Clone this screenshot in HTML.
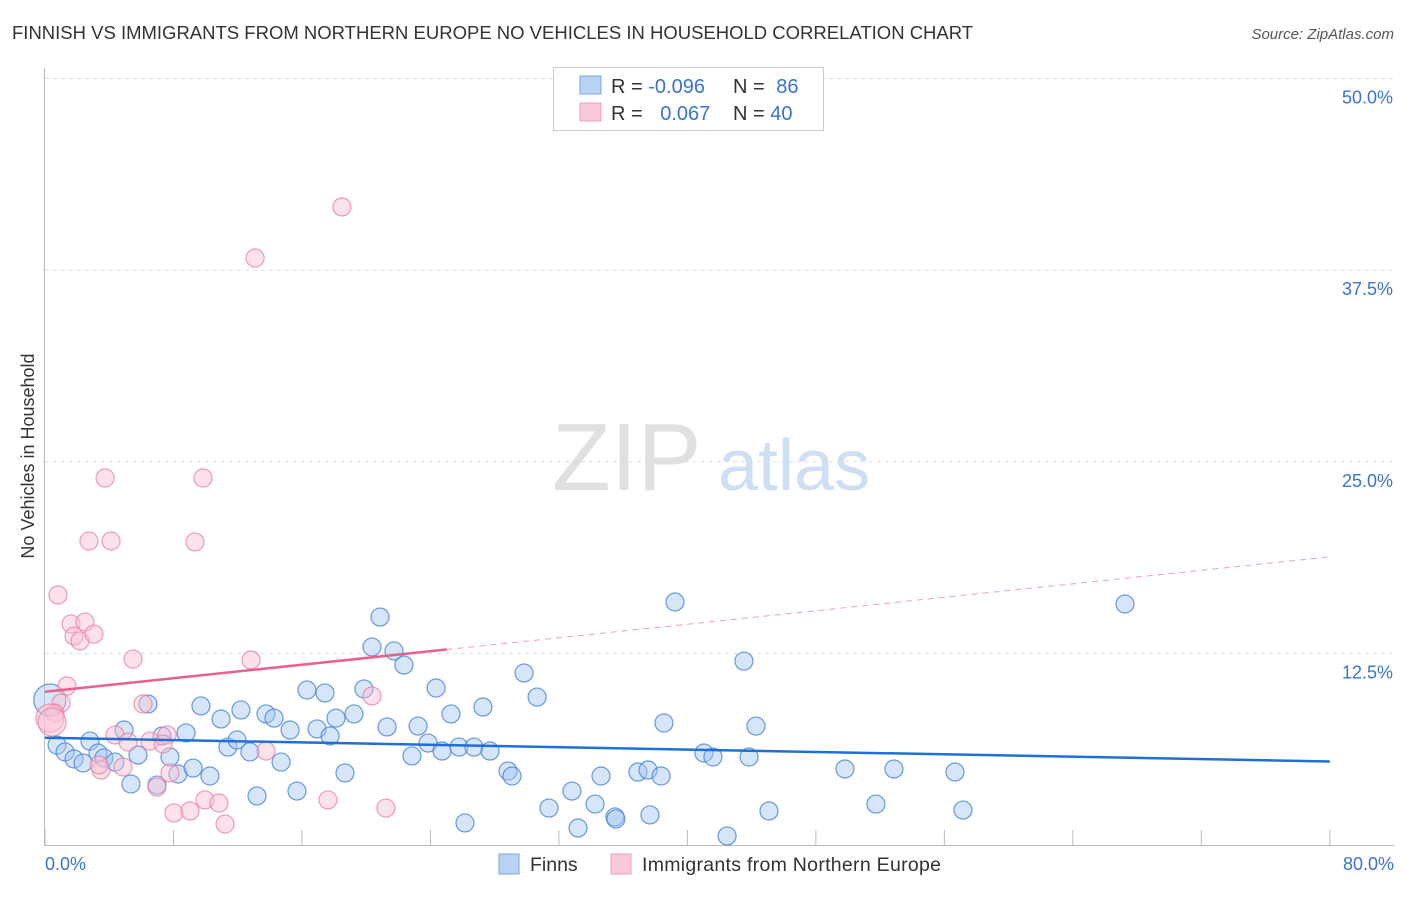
<!DOCTYPE html>
<html><head><meta charset="utf-8"><style>
body{margin:0;background:#fff;font-family:"Liberation Sans",sans-serif;}
svg text{font-family:"Liberation Sans",sans-serif;}
</style></head><body>
<svg id="c" width="1406" height="892">
<text x="12" y="39" font-size="18.5" fill="#333">FINNISH VS IMMIGRANTS FROM NORTHERN EUROPE NO VEHICLES IN HOUSEHOLD CORRELATION CHART</text>
<text x="1394" y="39" font-size="15" fill="#555" font-style="italic" text-anchor="end">Source: ZipAtlas.com</text>
<text x="34" y="456" font-size="18" fill="#333" text-anchor="middle" transform="rotate(-90 34 456)">No Vehicles in Household</text>
<g><text x="552" y="490" font-size="96" fill="#e0e0e0" font-family="Liberation Serif">ZIP</text><text x="718" y="490" font-size="72" fill="#cfdff3">atlas</text></g>
<g id="grid"></g><g id="pts"></g><g id="lines"></g>
<g>
<rect x="553.5" y="67.5" width="270" height="63" fill="#fff" stroke="#ccc"/>
<rect x="580" y="76" width="21" height="18" fill="#b9d3f5" stroke="#7aa5e0"/>
<rect x="580" y="103" width="21" height="18" fill="#fbc9d8" stroke="#eea0b8"/>
<text x="611" y="93" font-size="20" fill="#333">R = <tspan fill="#3a73d0">-0.096</tspan></text>
<text x="733" y="93" font-size="20" fill="#333">N = <tspan fill="#3a73d0" dx="6">86</tspan></text>
<text x="611" y="120" font-size="20" fill="#333">R = <tspan fill="#3a73d0" dx="12">0.067</tspan></text>
<text x="733" y="120" font-size="20" fill="#333">N = <tspan fill="#3a73d0">40</tspan></text>
</g>
<g>
<rect x="499" y="854" width="20" height="20" fill="#b9d3f5" stroke="#7aa5e0"/>
<text x="530" y="871" font-size="19.5" fill="#333">Finns</text>
<rect x="611" y="854" width="20" height="20" fill="#fbc9d8" stroke="#eea0b8"/>
<text x="642" y="871" font-size="19.5" fill="#333" textLength="299">Immigrants from Northern Europe</text>
</g>
</svg>
<script>
const yTicks=[12.5,25,37.5,50];
const yTickLabels=["12.5%","25.0%","37.5%","50.0%"];
const xTicks=[0,8,16,24,32,40,48,56,64,72,80];
const finnsX=[0.75,1.25,1.81,2.37,2.80,3.30,3.67,4.36,4.92,5.35,5.79,6.41,6.97,7.29,7.78,8.28,8.78,9.22,9.71,10.27,10.96,11.39,11.96,12.20,12.76,13.20,13.76,14.26,14.70,15.26,15.69,16.31,16.94,17.43,17.75,18.12,18.68,19.24,19.86,20.36,20.86,21.30,21.73,22.35,22.85,23.23,23.85,24.35,24.72,25.28,25.78,26.15,26.71,27.27,27.71,28.83,29.08,29.83,30.64,31.38,32.81,33.19,34.25,34.62,35.49,35.55,36.92,37.55,37.67,38.36,38.54,39.23,41.03,41.59,42.47,43.52,43.84,44.27,45.08,49.81,51.74,52.86,56.66,57.16,67.25,0.3];
const finnsY=[6.52,6.07,5.61,5.35,6.78,6.00,5.68,5.41,7.50,3.98,5.87,9.20,3.91,7.11,5.74,4.63,7.31,5.02,9.07,4.50,8.22,6.39,6.85,8.81,6.07,3.20,8.55,8.28,5.41,7.50,3.52,10.11,7.57,9.92,7.11,8.28,4.70,8.55,10.18,12.92,14.87,7.70,12.66,11.74,5.81,7.76,6.65,10.24,6.13,8.55,6.39,1.44,6.39,9.00,6.13,4.83,4.50,11.22,9.65,2.41,3.52,1.11,2.67,4.50,1.83,1.70,4.76,4.89,1.96,4.50,7.96,15.85,6.00,5.74,0.59,12.00,5.74,7.76,2.22,4.96,2.67,4.96,4.76,2.28,15.72,9.46];
const immX=[0.81,1.62,2.49,1.81,2.18,3.05,5.48,12.83,1.37,1.00,0.62,0.31,0.44,3.74,9.84,2.74,4.11,9.34,13.08,18.49,4.36,5.17,6.10,6.54,7.60,7.78,6.97,7.35,3.49,4.86,8.03,9.03,9.96,10.83,11.21,13.76,17.62,20.36,21.23,3.36];
const immY=[16.31,14.42,14.55,13.63,13.31,13.76,12.13,12.07,10.37,9.26,8.61,8.28,8.02,23.94,23.94,19.83,19.83,19.77,38.29,41.62,7.18,6.72,9.20,6.78,7.18,4.70,3.78,6.59,4.89,5.09,2.09,2.22,2.94,2.74,1.37,6.13,2.94,9.72,2.41,5.22];
const finnsTrend=[7.0,5.45];
const immTrend=[10.0,18.8];
const immSolidEnd=25;
const NS="http://www.w3.org/2000/svg";
const xs=v=>45+v*16.06, ys=v=>845-v*15.33;
function mk(t,a,p){const e=document.createElementNS(NS,t);for(const k in a)e.setAttribute(k,a[k]);p.appendChild(e);return e;}
const g=document.getElementById('grid');
yTicks.forEach((t,i)=>{
 const l=mk('line',{x1:45,x2:1394,y1:ys(t),y2:ys(t),stroke:'#ddd','stroke-dasharray':'4,4'},g);
 
 
 const tx=mk('text',{x:1393,y:ys(t)+25,'font-size':18,fill:'#3a73d0','text-anchor':'end'},g);tx.textContent=yTickLabels[i];
 
 
});
const ax=mk('line',{x1:44.5,x2:44.5,y1:68,y2:845,stroke:'#bbb'},g);


const bx=mk('line',{x1:44,x2:1394,y1:845.5,y2:845.5,stroke:'#bbb'},g);


xTicks.forEach(t=>{const l=mk('line',{x1:xs(t),x2:xs(t),y1:830,y2:845,stroke:'#bbb'},g);
 
 });
[[0,"0.0%",'start',45],[80,"80.0%",'end',1394]].forEach(a=>{const t=mk('text',{x:a[3],y:870,'font-size':18,fill:'#3a73d0','text-anchor':a[2]},g);t.textContent=a[1];
 
 });
const P=document.getElementById('pts');
finnsX.forEach((x,i)=>{const r=i==finnsX.length-1?16:9;
 const c=mk('circle',{cx:xs(x),cy:ys(finnsY[i]),r:r,fill:'rgba(165,198,240,0.45)',stroke:'rgba(70,130,215,0.8)','stroke-width':1.2},P);
 
 });
immX.forEach((x,i)=>{const r=(i==11||i==12)?14:9;
 const c=mk('circle',{cx:xs(x),cy:ys(immY[i]),r:r,fill:'rgba(250,190,210,0.45)',stroke:'rgba(235,130,165,0.8)','stroke-width':1.2},P);
 
 });
const L=document.getElementById('lines');
const bl=mk('line',{x1:xs(0),y1:ys(finnsTrend[0]),x2:xs(80),y2:ys(finnsTrend[1]),stroke:'#1f6fd6','stroke-width':2.5},L);


const iy=v=>immTrend[0]+(immTrend[1]-immTrend[0])*v/80;
const pl=mk('line',{x1:xs(0),y1:ys(iy(0)),x2:xs(immSolidEnd),y2:ys(iy(immSolidEnd)),stroke:'#e8608c','stroke-width':2.5},L);


const pd=mk('line',{x1:xs(immSolidEnd),y1:ys(iy(immSolidEnd)),x2:xs(80),y2:ys(iy(80)),stroke:'#e8a0b8','stroke-width':1,'stroke-dasharray':'6,5'},L);


</script>
</body></html>
